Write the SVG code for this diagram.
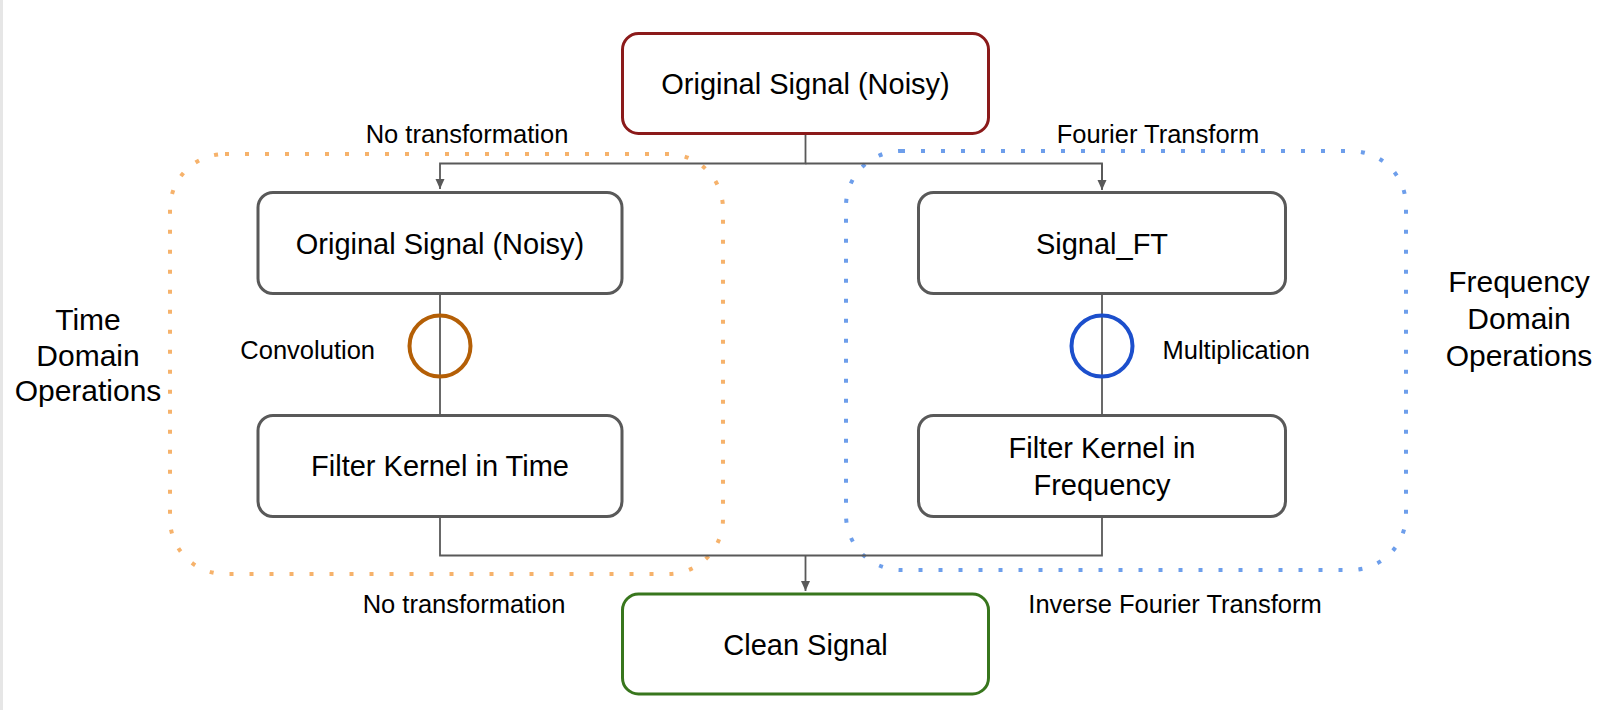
<svg xmlns="http://www.w3.org/2000/svg" width="1610" height="710" viewBox="0 0 1610 710">
<defs>
<style>
.box{fill:#fff;stroke:#595959;stroke-width:3}
.bt{font-family:"Liberation Sans",Arial,sans-serif;font-size:29px;fill:#000;text-anchor:middle}
.lb{font-family:"Liberation Sans",Arial,sans-serif;font-size:25.5px;fill:#000}
.big{font-family:"Liberation Sans",Arial,sans-serif;font-size:30px;fill:#000;text-anchor:middle}
.con{fill:none;stroke:#595959;stroke-width:1.8}
.dot{fill:none;stroke-width:4;stroke-dasharray:4 16}
</style>
<marker id="ah" viewBox="0 0 10 10" refX="10" refY="5" markerWidth="10" markerHeight="10" markerUnits="userSpaceOnUse" orient="auto">
<path d="M0,0.5 L10,5 L0,9.5 z" fill="#595959"/>
</marker>
</defs>
<rect x="0" y="0" width="1610" height="710" fill="#fff"/>
<rect x="0" y="0" width="3" height="710" fill="#e6e6e6"/>

<g id="group-time">
<rect class="dot" x="170" y="154" width="553" height="420" rx="55" stroke="#f6b26b"/>
<text class="big" x="88" y="330">Time</text>
<text class="big" x="88" y="366">Domain</text>
<text class="big" x="88" y="401">Operations</text>
</g>
<g id="group-freq">
<rect class="dot" x="846" y="151" width="560" height="419" rx="55" stroke="#6d9eeb"/>
<text class="big" x="1519" y="292">Frequency</text>
<text class="big" x="1519" y="329">Domain</text>
<text class="big" x="1519" y="366">Operations</text>
</g>

<g id="connectors">
<path class="con" d="M805.5,135 V163.5 H440 V189" marker-end="url(#ah)"/>
<path class="con" d="M805.5,163.5 H1102 V189"/>
<path class="con" d="M1102,163.5 V190" marker-end="url(#ah)"/>
<path class="con" d="M440,294 V415"/>
<path class="con" d="M1102,294 V415"/>
<path class="con" d="M440,517 V555.5 H1102 V517"/>
<path class="con" d="M805.5,555.5 V591" marker-end="url(#ah)"/>
<text class="lb" x="467" y="143" text-anchor="middle">No transformation</text>
<text class="lb" x="1158" y="143" text-anchor="middle">Fourier Transform</text>
<text class="lb" x="464" y="613" text-anchor="middle">No transformation</text>
<text class="lb" x="1175" y="613" text-anchor="middle">Inverse Fourier Transform</text>
</g>

<g id="node-top">
<rect x="622.5" y="33.5" width="366" height="100" rx="16" fill="#fff" stroke="#8b1a1a" stroke-width="3"/>
<text class="bt" x="805.5" y="94">Original Signal (Noisy)</text>
</g>
<g id="node-orig">
<rect class="box" x="258" y="192.5" width="364" height="101" rx="15"/>
<text class="bt" x="440" y="253.5">Original Signal (Noisy)</text>
</g>
<g id="node-conv">
<circle cx="440" cy="346" r="30.5" fill="none" stroke="#b45f06" stroke-width="4"/>
<text class="lb" x="375" y="359" text-anchor="end">Convolution</text>
</g>
<g id="node-kernel-time">
<rect class="box" x="258" y="415.5" width="364" height="101" rx="15"/>
<text class="bt" x="440" y="476">Filter Kernel in Time</text>
</g>
<g id="node-ft">
<rect class="box" x="918.5" y="192.5" width="367" height="101" rx="15"/>
<text class="bt" x="1102" y="253.5">Signal_FT</text>
</g>
<g id="node-mult">
<circle cx="1102" cy="346" r="30.5" fill="none" stroke="#1c4fcc" stroke-width="4"/>
<text class="lb" x="1162.5" y="359">Multiplication</text>
</g>
<g id="node-kernel-freq">
<rect class="box" x="918.5" y="415.5" width="367" height="101" rx="15"/>
<text class="bt" x="1102" y="458">Filter Kernel in</text>
<text class="bt" x="1102" y="495">Frequency</text>
</g>
<g id="node-clean">
<rect x="622.5" y="594" width="366" height="100" rx="16" fill="#fff" stroke="#38761d" stroke-width="3"/>
<text class="bt" x="805.5" y="654.5">Clean Signal</text>
</g>
</svg>
